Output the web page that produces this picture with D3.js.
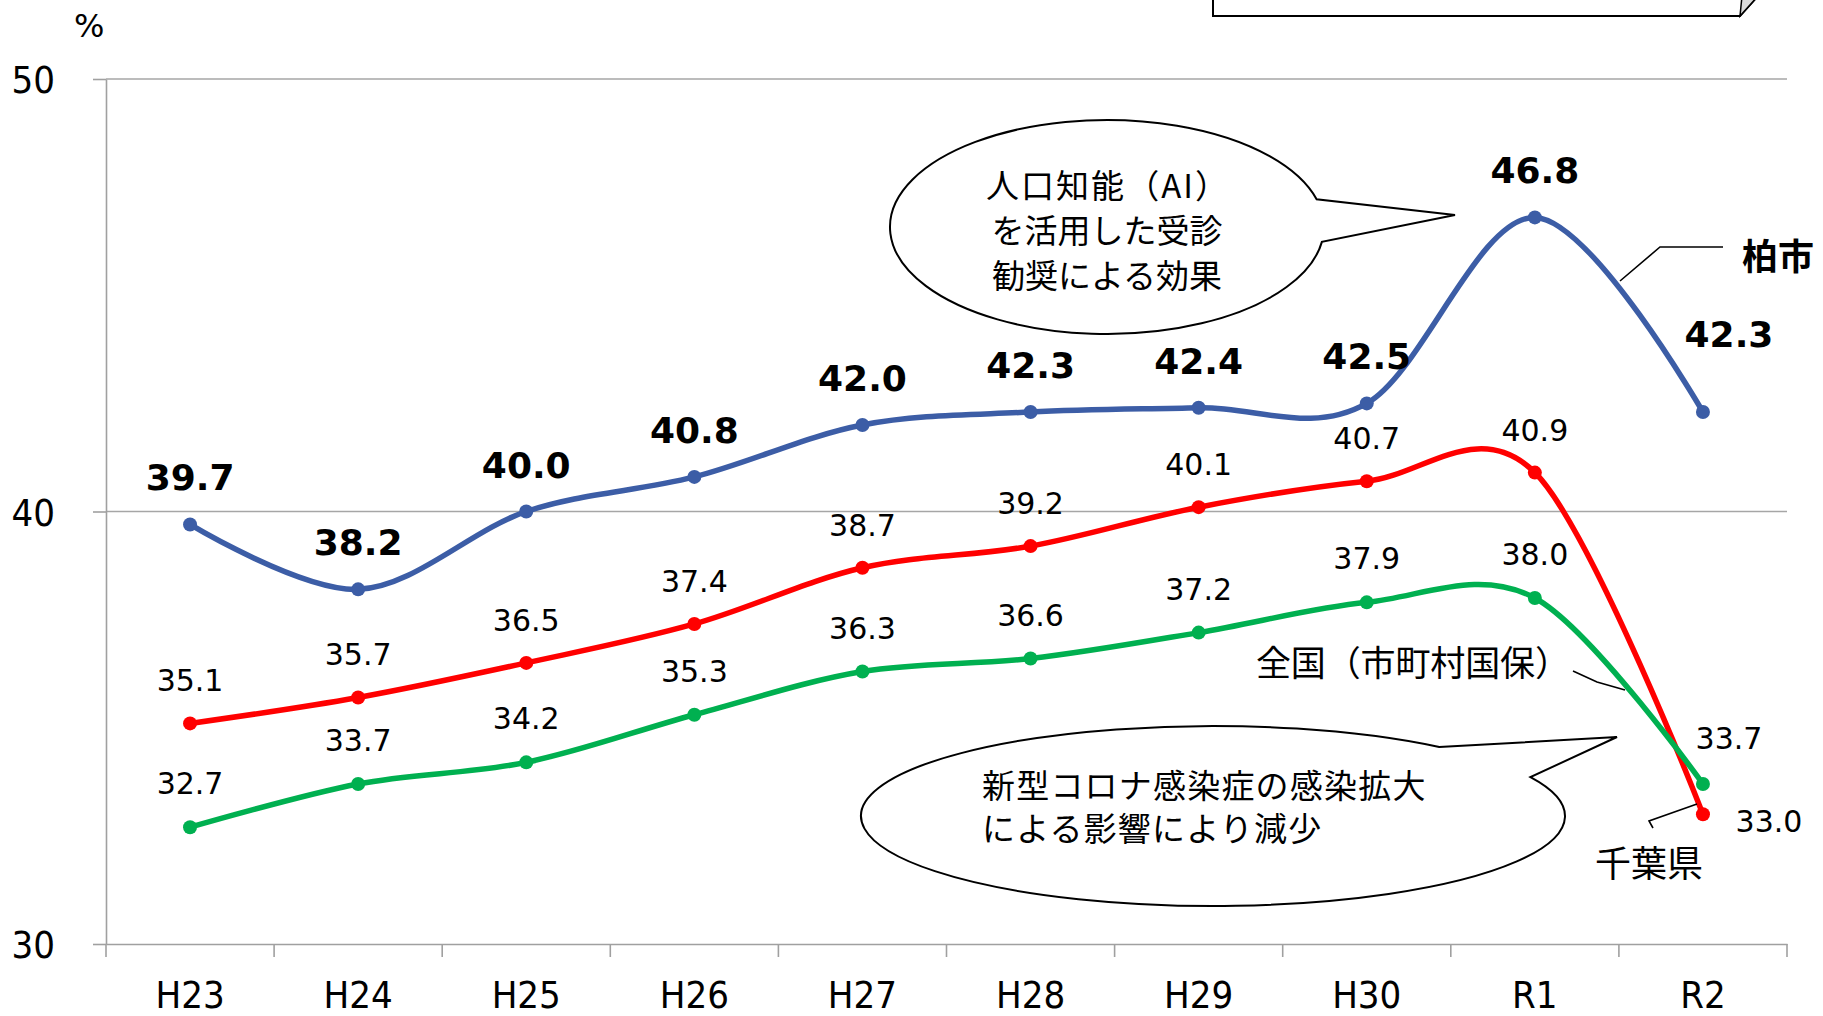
<!DOCTYPE html>
<html lang="ja">
<head>
<meta charset="utf-8">
<script src="https://cdn.jsdelivr.net/npm/d3@7"></script>
<style>
  html, body { margin: 0; padding: 0; background: #fff; }
  svg { display: block; }
  .num { font-family: "DejaVu Sans", "Noto Sans CJK JP", sans-serif; }
  .axis text { font-family: "DejaVu Sans Condensed", "DejaVu Sans", sans-serif; font-size: 38px; fill: #000; }
  .jp { font-family: "Noto Sans CJK JP", "DejaVu Sans", sans-serif; fill: #000; }
</style>
</head>
<body>
<svg id="chart" width="1823" height="1016"></svg>
<script>
// 特定健診受診率の推移（柏市・千葉県・全国）
const categories = ["H23", "H24", "H25", "H26", "H27", "H28", "H29", "H30", "R1", "R2"];
const kashiwa  = [39.7, 38.2, 40.0, 40.8, 42.0, 42.3, 42.4, 42.5, 46.8, 42.3];
const chiba    = [35.1, 35.7, 36.5, 37.4, 38.7, 39.2, 40.1, 40.7, 40.9, 33.0];
const national = [32.7, 33.7, 34.2, 35.3, 36.3, 36.6, 37.2, 37.9, 38.0, 33.7];
const yTicks = [30, 40, 50];
const seriesNames = ["柏市", "千葉県", "全国（市町村国保）"];

const svg = d3.select("#chart");

const x = d3.scaleBand().domain(categories).range([106, 1787]);
const cx = c => x(c) + x.bandwidth() / 2;
const y = d3.scaleLinear().domain([30, 50]).range([944, 79]);

// gridlines
svg.append("g").selectAll("line").data(yTicks.filter(v => v !== 30)).join("line")
  .attr("x1", 106).attr("x2", 1787)
  .attr("y1", d => y(d)).attr("y2", d => y(d))
  .attr("stroke", "#a6a6a6").attr("stroke-width", 1.6);

// y axis
const yAxis = svg.append("g").attr("class", "axis").attr("transform", "translate(106,0)")
  .call(d3.axisLeft(y).tickValues(yTicks).tickSize(13).tickSizeOuter(0).tickPadding(38));
yAxis.selectAll("line, path").attr("stroke", "#a0a0a0").attr("stroke-width", 1.6);
yAxis.selectAll("text").attr("dy", "0.36em");

// x axis
const xAxis = svg.append("g").attr("class", "axis").attr("transform", "translate(0,944)")
  .call(d3.axisBottom(x).tickSize(0).tickSizeOuter(0).tickPadding(37));
xAxis.select("path").attr("stroke", "#a0a0a0").attr("stroke-width", 1.6);
xAxis.selectAll("text").attr("dy", "0.71em");
// category boundary ticks
const bounds = categories.map(c => x(c)).concat([x.range()[1]]);
svg.append("g").selectAll("line").data(bounds).join("line")
  .attr("x1", d => d).attr("x2", d => d)
  .attr("y1", 944).attr("y2", 957)
  .attr("stroke", "#a0a0a0").attr("stroke-width", 1.6);

// unit
svg.append("text").attr("class", "num").attr("x", 74).attr("y", 37)
  .attr("font-size", 32).text("%");

// series
const series = [
  { name: seriesNames[0], values: kashiwa,  color: "#3C5DA6" },
  { name: seriesNames[1], values: chiba,    color: "#FF0000" },
  { name: seriesNames[2], values: national, color: "#00B050" }
];

const line = d3.line()
  .x((d, i) => cx(categories[i]))
  .y(d => y(d))
  .curve(d3.curveCardinal.tension(0));

const drawOrder = [series[1], series[2], series[0]];
drawOrder.forEach(s => {
  svg.append("path").attr("d", line(s.values))
    .attr("fill", "none").attr("stroke", s.color)
    .attr("stroke-width", 5.5).attr("stroke-linejoin", "round");
  svg.append("g").selectAll("circle").data(s.values).join("circle")
    .attr("cx", (d, i) => cx(categories[i]))
    .attr("cy", d => y(d))
    .attr("r", 7).attr("fill", s.color);
});

// value labels
const last = categories.length - 1;
function labelPos(sIdx, i) {
  if (sIdx === 0) return i === last ? [26, -65] : [0, -34];
  if (sIdx === 1) return i === last ? [66, 18] : [0, -32];
  return i === last ? [26, -35] : [0, -33];
}
series.forEach((s, sIdx) => {
  svg.append("g").selectAll("text").data(s.values).join("text")
    .attr("class", "num")
    .attr("x", (d, i) => cx(categories[i]) + labelPos(sIdx, i)[0])
    .attr("y", (d, i) => y(d) + labelPos(sIdx, i)[1])
    .attr("text-anchor", "middle")
    .attr("font-size", sIdx === 0 ? 36 : 30)
    .attr("font-weight", sIdx === 0 ? "bold" : "normal")
    .text(d => d.toFixed(1));
});

// series name labels with leader lines
const leader = pts => svg.append("path").attr("d", d3.line()(pts))
  .attr("fill", "none").attr("stroke", "#000").attr("stroke-width", 1.6);

leader([[1723, 247], [1660, 247], [1620, 281]]);
svg.append("text").attr("class", "jp").attr("x", 1742).attr("y", 270)
  .attr("font-size", 36).attr("font-weight", "bold").text(seriesNames[0]);

leader([[1573, 671], [1597, 682], [1625, 690]]);
svg.append("text").attr("class", "jp").attr("x", 1256).attr("y", 676)
  .attr("font-size", 35).attr("textLength", 314).attr("lengthAdjust", "spacing")
  .text(seriesNames[2]);

leader([[1697, 804], [1649, 821], [1653, 828]]);
svg.append("text").attr("class", "jp").attr("x", 1595).attr("y", 877)
  .attr("font-size", 36).text(seriesNames[1]);

// speech bubbles
function bubble(c, rx, ry, aStart, aEnd, tip) {
  const p = a => [c[0] + rx * Math.cos(a * Math.PI / 180), c[1] + ry * Math.sin(a * Math.PI / 180)];
  const s = p(aStart), e = p(aEnd);
  const d = `M${s[0]},${s[1]} A${rx},${ry} 0 1 1 ${e[0]},${e[1]} L${tip[0]},${tip[1]} Z`;
  svg.append("path").attr("d", d).attr("fill", "#fff")
    .attr("stroke", "#000").attr("stroke-width", 2);
}

bubble([1107, 227], 217, 107, 8, -15, [1455, 215]);
const aiLines = ["人口知能（AI）", "を活用した受診", "勧奨による効果"];
svg.append("g").selectAll("text").data(aiLines).join("text")
  .attr("class", "jp").attr("x", 1107).attr("y", (d, i) => 198 + i * 45)
  .attr("text-anchor", "middle").attr("font-size", 33)
  .each(function (d, i) {
    if (i === 0) d3.select(this).attr("textLength", 242).attr("lengthAdjust", "spacing");
  })
  .text(d => d);

bubble([1213, 816], 352, 90, -25.6, -50, [1617, 737]);
const covidLines = ["新型コロナ感染症の感染拡大", "による影響により減少"];
svg.append("g").selectAll("text").data(covidLines).join("text")
  .attr("class", "jp").attr("x", 982).attr("y", (d, i) => 798 + i * 43)
  .attr("font-size", 33).attr("letter-spacing", 1.2).text(d => d);

// note box at top (partly above the frame)
svg.append("path").attr("d", "M1213,-5 L1213,16 L1740,16 L1758,-4")
  .attr("fill", "#fff").attr("stroke", "#000").attr("stroke-width", 2);
svg.append("path").attr("d", "M1740,16 L1742,-4 L1758,-4 Z")
  .attr("fill", "#d9d9d9").attr("stroke", "#000").attr("stroke-width", 1.5);
</script>
</body>
</html>
